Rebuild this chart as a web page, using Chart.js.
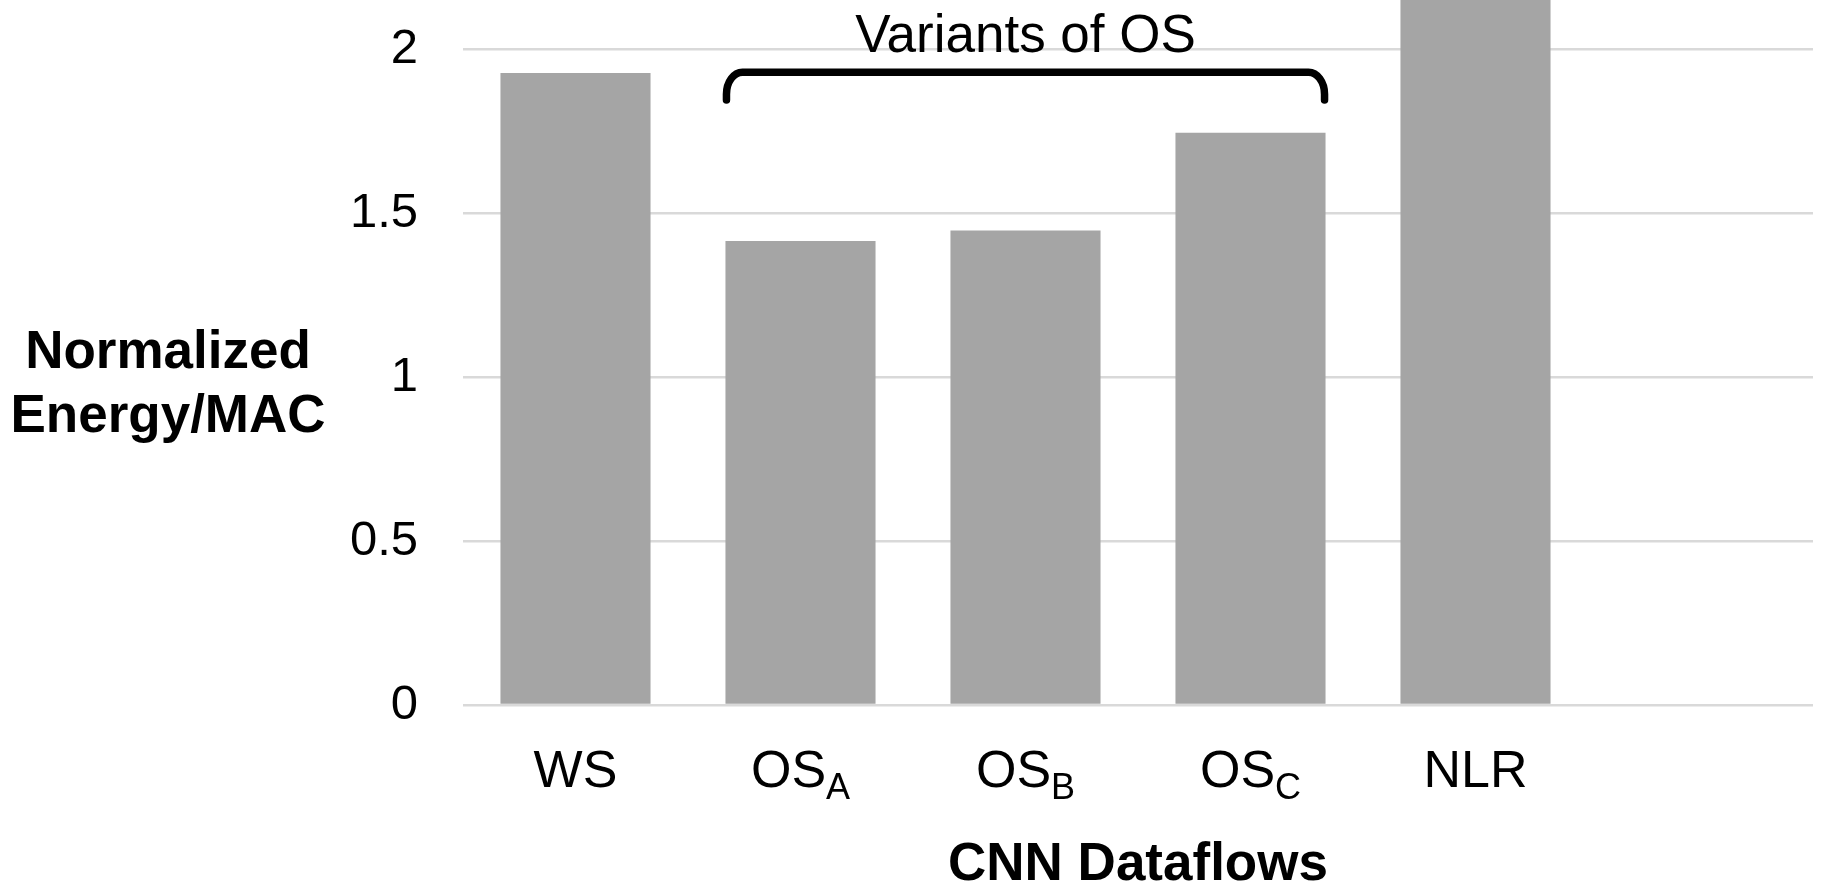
<!DOCTYPE html>
<html><head><meta charset="utf-8">
<script src="https://cdn.jsdelivr.net/npm/chart.js@4/dist/chart.umd.min.js"></script>
<style>html,body{margin:0;padding:0;background:#fff;} #wrap{width:1822px;height:883px;position:relative;}</style>
</head><body><div id="wrap"><canvas id="c"></canvas></div>
<script>
// ---- data ----
const categories = ['WS', 'OS_A', 'OS_B', 'OS_C', 'NLR', ''];
const energyPerMac = [1.927, 1.415, 1.447, 1.745, 2.5, null];
const yTicks = [0, 0.5, 1, 1.5, 2];
const yTitleLines = ['Normalized', 'Energy/MAC'];
const xTitle = 'CNN Dataflows';
const bracketLabel = 'Variants of OS';
const bracketCats = [1, 3];

const FONT = '"Liberation Sans", Arial, sans-serif';

const overlay = {
  id: 'overlay',
  afterDraw(chart) {
    const ctx = chart.ctx, xs = chart.scales.x, ys = chart.scales.y, area = chart.chartArea;
    const meta = chart.getDatasetMeta(0);
    ctx.save();
    ctx.fillStyle = '#000';
    ctx.textBaseline = 'alphabetic';
    // x tick labels with subscripts
    categories.forEach((lab, i) => {
      if (!lab) return;
      const [main, sub] = lab.split('_');
      const x = xs.getPixelForValue(i);
      ctx.font = '52px ' + FONT;
      const w1 = ctx.measureText(main).width;
      ctx.font = '36px ' + FONT;
      const w2 = sub ? ctx.measureText(sub).width : 0;
      const x0 = x - (w1 + w2) / 2;
      ctx.textAlign = 'left';
      ctx.font = '52px ' + FONT;
      ctx.fillText(main, x0, 787);
      if (sub) { ctx.font = '36px ' + FONT; ctx.fillText(sub, x0 + w1, 799); }
    });
    // x title
    ctx.textAlign = 'center';
    ctx.font = 'bold 53px ' + FONT;
    ctx.fillText(xTitle, (area.left + area.right) / 2, 880);
    // y title (horizontal)
    ctx.fillText(yTitleLines[0], 168, 368);
    ctx.fillText(yTitleLines[1], 168, 432);
    // bracket
    const a = meta.data[bracketCats[0]], b = meta.data[bracketCats[1]];
    const left = a.x - a.width / 2 + 1, right = b.x + b.width / 2 - 1;
    const yTop = ys.getPixelForValue(1.93), yEnd = ys.getPixelForValue(1.845);
    const rx = 16, ry = 22, k = 0.55;
    ctx.beginPath();
    ctx.moveTo(left, yEnd);
    ctx.lineTo(left, yTop + ry);
    ctx.bezierCurveTo(left, yTop + ry * (1 - k), left + rx * (1 - k), yTop, left + rx, yTop);
    ctx.lineTo(right - rx, yTop);
    ctx.bezierCurveTo(right - rx * (1 - k), yTop, right, yTop + ry * (1 - k), right, yTop + ry);
    ctx.lineTo(right, yEnd);
    ctx.lineWidth = 7.5;
    ctx.lineCap = 'round';
    ctx.lineJoin = 'round';
    ctx.strokeStyle = '#000';
    ctx.stroke();
    // bracket label
    ctx.font = '53px ' + FONT;
    ctx.textAlign = 'center';
    ctx.fillText(bracketLabel, meta.data[2].x, 52);
    ctx.restore();
  }
};

new Chart(document.getElementById('c'), {
  type: 'bar',
  data: {
    labels: categories,
    datasets: [{
      data: energyPerMac,
      backgroundColor: '#a5a5a5',
      categoryPercentage: 1,
      barPercentage: 0.667
    }]
  },
  options: {
    responsive: true,
    maintainAspectRatio: false,
    animation: false,
    events: [],
    layout: { padding: { left: 0, right: 9, top: 0, bottom: 0 } },
    plugins: { legend: { display: false }, tooltip: { enabled: false } },
    scales: {
      x: {
        grid: { display: false },
        border: { display: false },
        ticks: { display: false },
        afterFit(s) { s.height = 178; s.paddingLeft = 0; s.paddingRight = 0; }
      },
      y: {
        min: 0,
        max: 2.15,
        afterBuildTicks(s) { s.ticks = yTicks.map(v => ({ value: v })); },
        grid: { color: '#d9d9d9', lineWidth: 2.5, drawTicks: false },
        border: { display: false },
        ticks: { color: '#000', padding: 45, font: { family: FONT, size: 49 }, callback: v => String(v) },
        afterFit(s) { s.width = 463; s.paddingTop = 0; s.paddingBottom = 0; }
      }
    }
  },
  plugins: [overlay]
});
</script>
</body></html>
